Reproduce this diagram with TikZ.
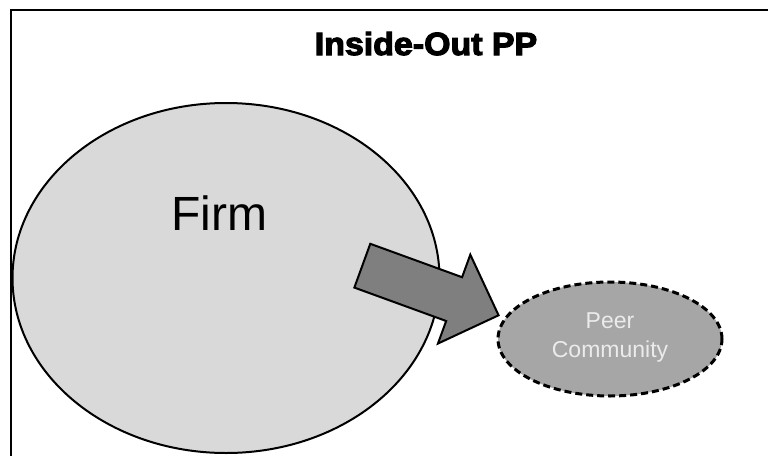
\documentclass[tikz,border=0pt]{standalone}
\usepackage{fontspec}
\setmainfont{Liberation Sans}
\newfontfamily\titlefont[FakeBold=3.5]{Liberation Sans Bold}
\usetikzlibrary{shapes.geometric,shapes.arrows}
\definecolor{firmfill}{HTML}{D9D9D9}
\definecolor{peerfill}{HTML}{A6A6A6}
\definecolor{arrowfill}{HTML}{7F7F7F}
\definecolor{peertext}{HTML}{EBEBEB}
\tikzset{
  framestyle/.style={line width=2.2pt},
  firmcircle/.style={ellipse, draw, fill=firmfill, line width=2pt, inner sep=0pt},
  peerellipse/.style={ellipse, draw, fill=peerfill, line width=3pt, dash pattern=on 7pt off 4pt, inner sep=0pt},
  blockarrow/.style={single arrow, draw, fill=arrowfill, line width=2pt, inner xsep=0pt, inner ysep=22.3pt, single arrow head extend=24pt},
}
\begin{document}
\begin{tikzpicture}[x=1pt,y=-1pt]
\useasboundingbox (0,0) rectangle (768,455);
\coordinate (ftl) at (11,10);
\coordinate (ftr) at (769,10);
\coordinate (fbl) at (11,456);
\draw[framestyle] (fbl) -- (ftl) -- (ftr);
\node[anchor=base, font={\titlefont\fontsize{32}{36}\selectfont}, xscale=1.06] (title) at (426,55) {Inside-Out PP};
\node[firmcircle, minimum width=427pt, minimum height=350pt] (firm) at (226,278) {};
\node[font={\fontsize{48}{56}\selectfont}, anchor=base] (firmlabel) at (219.5,230) {Firm};
\node[peerellipse, minimum width=224pt, minimum height=114pt] (peer) at (610,339) {};
\node[align=center, text=peertext, font={\fontsize{23}{29}\selectfont}] (peerlabel) at (610,337) {Peer\\Community};
\node[blockarrow, minimum height=145pt, rotate=-20] (arr) at (419.5,286.5) {};
\end{tikzpicture}
\end{document}
